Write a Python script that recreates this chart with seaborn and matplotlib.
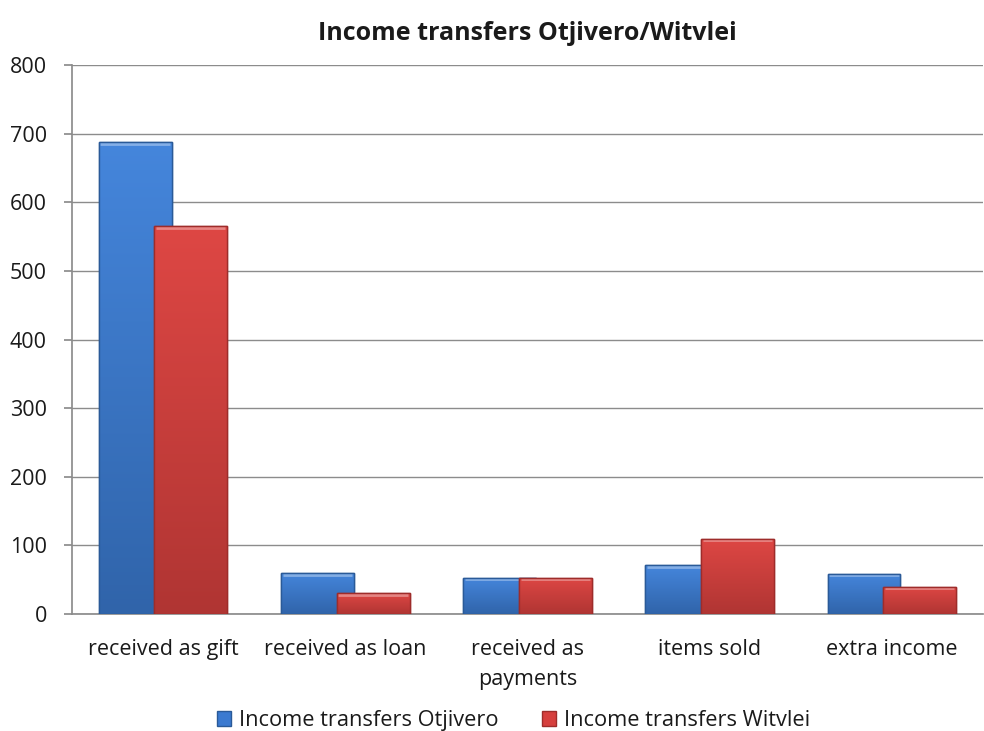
import matplotlib
matplotlib.use("Agg")
import matplotlib.pyplot as plt
import seaborn as sns
import pandas as pd
import numpy as np
from matplotlib.patches import Patch
from matplotlib.colors import LinearSegmentedColormap

categories = ["received as gift", "received as loan", "received as\npayments", "items sold", "extra income"]
series_names = ["Income transfers Otjivero", "Income transfers Witvlei"]
otjivero = [688, 60, 53, 71, 59]
witvlei = [565, 30, 53, 110, 40]
yticks = [0, 100, 200, 300, 400, 500, 600, 700, 800]

df = pd.DataFrame({
    "category": categories * 2,
    "series": [series_names[0]] * len(categories) + [series_names[1]] * len(categories),
    "value": otjivero + witvlei,
})

sns.set_theme(style="white")
plt.rcParams["font.family"] = ["Open Sans", "DejaVu Sans"]
text_color = "#1A1A1A"

colors = ["#3B7AD0", "#D63F3D"]
edges = ["#2A5A98", "#9E2C2A"]
grad_top = ["#4586DC", "#DE4744"]
grad_bot = ["#3064AA", "#B03533"]

fig = plt.figure(figsize=(9.84, 7.31), dpi=100)
ax = fig.add_axes([0.073, 0.16, 0.926, 0.751])
sns.barplot(data=df, x="category", y="value", hue="series", palette=colors,
            ax=ax, legend=False, errorbar=None, saturation=1)

width = 0.40
offset = 0.153
grad = np.linspace(0, 1, 256).reshape(-1, 1)
for i, container in enumerate(ax.containers):
    sign = -1 if i == 0 else 1
    cmap = LinearSegmentedColormap.from_list("g%d" % i, [grad_top[i], grad_bot[i]])
    for j, bar in enumerate(container):
        bar.set_width(width)
        bar.set_x(j + sign * offset - width / 2)
        bar.set_edgecolor(edges[i])
        bar.set_linewidth(1.0)
        bar.set_zorder(3 + 2 * i)
        x0 = bar.get_x()
        h = bar.get_height()
        im = ax.imshow(grad, cmap=cmap, aspect="auto", origin="upper",
                       extent=[x0, x0 + width, 0, h], zorder=3 + 2 * i + 0.5,
                       interpolation="bilinear")
        im.set_clip_path(bar)
        ax.plot([x0 + 0.01, x0 + width - 0.01], [h - 2.5, h - 2.5],
                color="white", alpha=0.35, linewidth=2, zorder=3 + 2 * i + 0.7,
                solid_capstyle="butt")
        outline = plt.Rectangle((x0, 0), width, h, fill=False, edgecolor=edges[i],
                                linewidth=1.0, zorder=3 + 2 * i + 0.9)
        ax.add_patch(outline)

ax.set_xlim(-0.5, len(categories) - 0.5)
ax.set_ylim(0, 800)
ax.set_yticks(yticks)
ax.yaxis.grid(True, color="#8C8C8C", linewidth=1.0)
ax.set_axisbelow(True)
for s in ["top", "right"]:
    ax.spines[s].set_visible(False)
ax.spines["left"].set_color("#8C8C8C")
ax.spines["bottom"].set_color("#8C8C8C")
ax.tick_params(axis="y", left=True, length=6, color="#8C8C8C", labelsize=15.5, pad=12,
               labelcolor=text_color)
ax.tick_params(axis="x", bottom=False, labelsize=15.5, pad=12, labelcolor=text_color)
for lbl in ax.get_xticklabels():
    lbl.set_linespacing(1.55)
ax.set_xlabel("")
ax.set_ylabel("")
ax.set_title("Income transfers Otjivero/Witvlei", fontsize=18, fontweight="bold", pad=18,
             color=text_color)

handles = [Patch(facecolor=colors[k], edgecolor=edges[k], label=series_names[k]) for k in range(2)]
leg = fig.legend(handles=handles, loc="lower center", ncol=2, frameon=False, fontsize=15.7,
                 bbox_to_anchor=(0.522, -0.027), handlelength=0.65, handleheight=0.65,
                 handletextpad=0.35, columnspacing=2.0)
for t in leg.get_texts():
    t.set_color(text_color)

fig.savefig("out.png", dpi=100)
